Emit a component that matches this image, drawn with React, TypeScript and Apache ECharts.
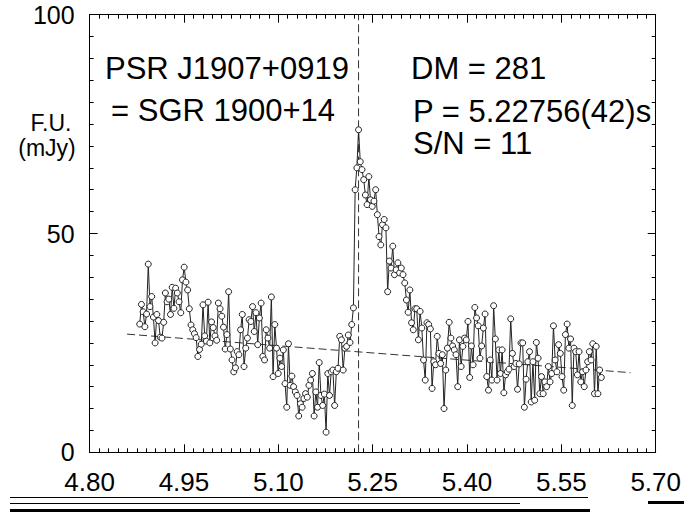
import React, { useEffect, useRef } from "react";
import * as echarts from "echarts";

// Pulse profile of PSR J1907+0919 (flux units, mJy), sampled on a regular phase-time grid
const X_START = 4.8797;
const X_STEP = 0.002718;
const PROFILE: number[] = [
  29.3, 33.8, 32.1, 28.7, 31.6, 43.0, 33.3, 35.6, 30.9, 25.0,
  31.5, 30.1, 26.3, 26.1, 29.7, 36.4, 34.4, 35.0, 31.5, 37.7,
  32.9, 37.5, 36.4, 34.4, 31.9, 39.4, 42.3, 38.9, 37.1, 32.8,
  29.1, 28.0, 27.1, 26.2, 21.9, 23.5, 24.7, 33.7, 26.6, 25.4,
  34.3, 25.0, 29.8, 28.5, 26.6, 25.6, 34.1, 32.8, 31.1, 28.6,
  23.6, 26.9, 36.7,
  23.6, 21.1, 18.4, 19.3, 23.0, 22.3, 28.0, 31.5, 19.6, 23.8,
  26.1, 30.3, 29.9, 33.3, 27.6, 31.9, 24.6, 30.7, 34.1, 21.9,
  21.1, 28.0, 26.1, 23.8, 35.5, 17.3, 29.2, 23.8, 18.0, 21.5,
  19.6, 23.4, 15.7, 10.3, 24.8, 15.3, 17.4, 15.0, 13.8, 13.0,
  8.3, 11.1, 10.3, 12.3, 13.4, 12.6, 15.3, 16.5, 18.0, 8.3,
  13.8, 10.3, 20.5, 13.0, 10.7, 13.3, 4.6, 18.0, 13.0, 18.4,
  18.8, 10.7, 18.4, 19.2, 26.5, 25.7, 18.8, 23.8, 24.2, 26.8,
  25.1,
  29.2, 33.0, 60.0, 65.0,
  73.7,
  66.4, 64.6, 62.3, 58.8, 56.6, 63.0, 57.7, 56.2, 57.4, 60.0,
  54.3, 49.3, 47.4, 52.0, 53.2, 51.3, 36.7, 43.7, 42.1, 47.1,
  40.6, 41.7, 43.3, 41.0, 42.1, 40.6, 38.7, 34.8, 32.0, 37.1,
  29.6, 28.0, 32.8, 32.8, 25.7, 32.2, 28.4,
  21.1, 16.5, 29.6, 29.2, 28.2, 14.6, 20.7, 20.0, 26.5, 22.6,
  20.3, 22.3, 10.0, 18.8, 23.8, 29.7, 26.1, 24.3, 23.4, 22.3,
  15.0, 25.7, 19.6, 24.2, 26.1, 25.7, 29.9, 17.1, 24.3, 20.0,
  33.1, 30.7, 28.9, 21.5, 24.3, 28.4, 31.6, 17.3, 14.2, 21.1,
  16.5, 33.5, 25.9, 16.5, 23.4, 18.0, 23.4, 13.6, 17.7, 18.4,
  19.0, 30.5, 22.6, 19.6, 20.3, 14.4, 20.2, 25.0,
  25.0, 10.3, 16.7, 20.7, 23.0, 11.5, 20.7, 11.9, 25.1, 21.5,
  13.4, 17.3, 13.4, 16.1, 15.0, 19.6, 16.1, 18.0, 28.9, 21.1,
  18.4, 24.6, 22.6, 17.3, 14.2, 26.9, 29.3, 23.8, 25.9, 10.7,
  23.8, 23.0, 17.7, 23.0, 16.1, 18.4, 15.0, 18.8, 20.7, 23.0,
  21.1, 24.8, 13.4, 24.2, 13.4, 18.8, 17.1,
];

// Fitted baseline (dashed)
const BASELINE_X = [4.8596, 5.6599];
const BASELINE_Y = [27.0, 18.2];

// Pulse period marker (dashed vertical)
const PERIOD = 5.2276;
const PERIOD_Y = [0, 100];

// Axes
const X_MIN = 4.8;
const X_MAX = 5.7;
const X_INTERVAL = 0.15;
const Y_MIN = 0;
const Y_MAX = 100;
const Y_INTERVAL = 50;

// Annotations
const LEFT_LINES = ["PSR J1907+0919", "= SGR 1900+14"];
const RIGHT_LINES = ["DM = 281", "P = 5.22756(42)s", "S/N = 11"];
const Y_TITLE = ["F.U.", "(mJy)"];

const FONT = "'Liberation Sans', Arial, Helvetica, sans-serif";

export default function App() {
  const ref = useRef<HTMLDivElement>(null);

  useEffect(() => {
    if (!ref.current) return;
    const chart = echarts.init(ref.current, undefined, { renderer: "svg" });

    const profileData = PROFILE.map((v, i) => [X_START + i * X_STEP, v]);
    const baselineData = BASELINE_X.map((x, i) => [x, BASELINE_Y[i]]);
    const periodData = PERIOD_Y.map((y) => [PERIOD, y]);

    const axisCommonX = {
      type: "value" as const,
      min: X_MIN,
      max: X_MAX,
      interval: X_INTERVAL,
      axisLine: { show: true, onZero: false, lineStyle: { color: "#000", width: 1 } },
      axisTick: { show: true, inside: true, length: 8, lineStyle: { color: "#000" } },
      minorTick: { show: true, splitNumber: 10, length: 4, lineStyle: { color: "#000" } },
      splitLine: { show: false },
      minorSplitLine: { show: false },
    };
    const axisCommonY = {
      type: "value" as const,
      min: Y_MIN,
      max: Y_MAX,
      interval: Y_INTERVAL,
      axisLine: { show: true, onZero: false, lineStyle: { color: "#000", width: 1 } },
      axisTick: { show: true, inside: true, length: 8, lineStyle: { color: "#000" } },
      minorTick: { show: true, splitNumber: 10, length: 4, lineStyle: { color: "#000" } },
      splitLine: { show: false },
      minorSplitLine: { show: false },
    };

    const textStyle = (fontSize: number) => ({
      fill: "#000",
      fontSize,
      fontFamily: FONT,
    });

    const graphics: any[] = [];
    const leftY = [68, 110];
    const leftX = [105, 111];
    LEFT_LINES.forEach((t, i) =>
      graphics.push({
        type: "text",
        x: leftX[i],
        y: leftY[i],
        style: { ...textStyle(31), text: t, align: "left", verticalAlign: "middle" },
      })
    );
    const rightY = [68, 111, 143];
    const rightX = [411, 413, 413];
    RIGHT_LINES.forEach((t, i) =>
      graphics.push({
        type: "text",
        x: rightX[i],
        y: rightY[i],
        style: { ...textStyle(31), text: t, align: "left", verticalAlign: "middle" },
      })
    );
    const titleX = [51, 47];
    const titleY = [123, 148];
    Y_TITLE.forEach((t, i) =>
      graphics.push({
        type: "text",
        x: titleX[i],
        y: titleY[i],
        style: { ...textStyle(23), text: t, align: "center", verticalAlign: "middle" },
      })
    );
    // scan artefacts along the bottom edge of the reference image
    const bars = [
      { x: 10, y: 497, w: 578, h: 1 },
      { x: 10, y: 503, w: 510, h: 1 },
      { x: 10, y: 509, w: 580, h: 3 },
      { x: 648, y: 501, w: 36, h: 3 },
    ];
    bars.forEach((b) =>
      graphics.push({
        type: "rect",
        shape: { x: b.x, y: b.y, width: b.w, height: b.h },
        style: { fill: "#000" },
        silent: true,
      })
    );

    chart.setOption({
      animation: false,
      backgroundColor: "#fff",
      grid: { left: 89.6, right: 25.3, top: 14.7, bottom: 68.7, containLabel: false },
      xAxis: [
        {
          ...axisCommonX,
          position: "bottom",
          axisLabel: {
            show: true,
            color: "#000",
            fontSize: 26,
            fontFamily: FONT,
            margin: 17,
            formatter: (v: number) => v.toFixed(2),
          },
        },
        {
          ...axisCommonX,
          position: "top",
          axisLabel: { show: false },
        },
      ],
      yAxis: [
        {
          ...axisCommonY,
          position: "left",
          axisLabel: {
            show: true,
            color: "#000",
            fontSize: 25,
            fontFamily: FONT,
            margin: 15,
          },
        },
        {
          ...axisCommonY,
          position: "right",
          axisLabel: { show: false },
        },
      ],
      series: [
        {
          type: "line",
          data: baselineData,
          symbol: "none",
          silent: true,
          z: 1,
          lineStyle: { color: "#333", width: 1, type: [8, 4] },
        },
        {
          type: "line",
          data: periodData,
          symbol: "none",
          silent: true,
          z: 1,
          lineStyle: { color: "#333", width: 1, type: [8, 4] },
        },
        {
          type: "line",
          data: profileData,
          z: 3,
          symbol: "circle",
          symbolSize: 6,
          showAllSymbol: true,
          itemStyle: { color: "#fff", borderColor: "#222", borderWidth: 1 },
          lineStyle: { color: "#222", width: 1 },
        },
      ],
      graphic: graphics,
    });

    return () => chart.dispose();
  }, []);

  return (
    <div
      ref={ref}
      style={{ position: "fixed", left: 0, top: 0, width: 684, height: 521, background: "#fff" }}
    />
  );
}
